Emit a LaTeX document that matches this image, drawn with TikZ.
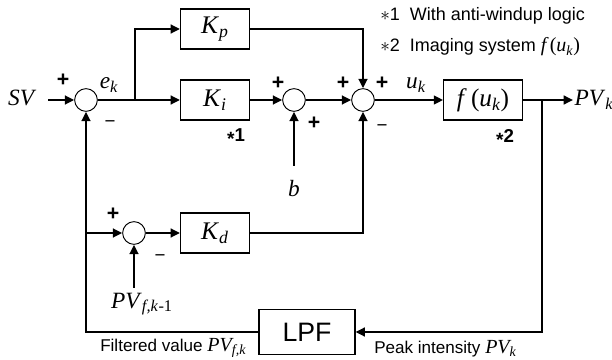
\documentclass[tikz,border=0pt]{standalone}
\usepackage{fontspec}
\setmainfont{Liberation Serif}
\setsansfont{Liberation Sans}
\usetikzlibrary{arrows.meta,positioning}
\newcommand{\vv}[1]{\textit{#1}}
\newcommand{\sbs}[1]{\textsubscript{\itshape #1}}
\begin{document}
\begin{tikzpicture}[x=0.75pt,y=-0.75pt,
  sig/.style={line width=2pt},
  arr/.style={line width=2pt,-{Triangle[length=7pt,width=6.5pt]}},
  sumc/.style={circle,draw,line width=0.7pt,minimum size=17pt,inner sep=0pt,fill=white},
  blk/.style={draw,line width=0.8pt,minimum width=51.75pt,minimum height=30pt,inner sep=0pt,font=\fontsize{19}{19}\selectfont},
  lbl/.style={font=\fontsize{17.5}{17.5}\selectfont,inner sep=1pt},
  sgn/.style={font=\sffamily\bfseries\fontsize{16}{16}\selectfont,inner sep=0pt},
  msgn/.style={font=\sffamily\fontsize{14}{14}\selectfont,inner sep=0pt},
  star/.style={font=\sffamily\bfseries\fontsize{14}{14}\selectfont,inner sep=0pt},
  note/.style={font=\sffamily\fontsize{13.5}{13.5}\selectfont,inner sep=0pt},
  foot/.style={font=\sffamily\fontsize{12.8}{12.8}\selectfont,inner sep=0pt},
  ser/.style={font=\fontsize{15}{15}\selectfont}]
\useasboundingbox (0,0) rectangle (612,360);
% summing junctions
\node[sumc] (s1) at (86,100) {};
\node[sumc] (s2) at (294,100) {};
\node[sumc] (s3) at (363,100) {};
\node[sumc] (s4) at (134,233) {};
% blocks
\node[blk] (kp) at (215,29) {\vv{K}\sbs{p}};
\node[blk] (ki) at (215,100) {\vv{K}\sbs{i}};
\node[blk] (kd) at (215,233) {\vv{K}\sbs{d}};
\node[blk,minimum width=59pt] (f) at (483,100) {\vv{f}\,(\vv{u}\sbs{k})};
\node[blk,minimum width=72pt,minimum height=34pt,font=\sffamily\fontsize{20}{20}\selectfont] (lpf) at (307,332) {LPF};
% signal labels
\node[lbl,anchor=east] (sv) at (38,98) {\vv{SV}};
\node[lbl,anchor=west] (pv) at (573,100) {\vv{PV}\sbs{k}};
\node[lbl] (bb) at (294,189) {\vv{b}};
\node[lbl] (pvf) at (142,304) {\vv{PV}\textsubscript{\itshape f,k}\textsubscript{-1}};
\node[lbl] at (109,85) {\vv{e}\sbs{k}};
\node[lbl] at (416,85) {\vv{u}\sbs{k}};
% coordinates
\coordinate (svsrc) at (48,100);
\coordinate (br1) at (135,100);
\coordinate (br2) at (542,100);
\coordinate (br3) at (86,233);
\coordinate (bsrc) at (294,166);
\coordinate (pvsrc) at (134,288);
% connectors
\draw[arr] (svsrc) -- (s1.west);
\draw[arr] (s1.east) -- (ki.west);
\draw[arr] (br1) |- (kp.west);
\draw[arr] (ki.east) -- (s2.west);
\draw[arr] (s2.east) -- (s3.west);
\draw[arr] (kp.east) -| (s3.north);
\draw[arr] (s3.east) -- (f.west);
\draw[arr] (f.east) -- (pv.west);
\draw[arr] (bsrc) -- (s2.south);
\draw[arr] (br2) |- (lpf.east);
\draw[arr] (lpf.west) -| (s1.south);
\draw[arr] (br3) -- (s4.west);
\draw[arr] (s4.east) -- (kd.west);
\draw[arr] (pvsrc) -- (s4.south);
\draw[arr] (kd.east) -| (s3.south);
% signs
\node[sgn] at (63,80) {+};
\node[msgn] at (110,124) {−};
\node[sgn] at (278,83) {+};
\node[sgn] at (314,123) {+};
\node[sgn] at (343,83) {+};
\node[sgn] at (382,83) {+};
\node[msgn] at (382,128) {−};
\node[sgn] at (113,214) {+};
\node[msgn] at (160,258) {−};
% stars
\node[star] at (236,137) {\raisebox{-0.2em}{\Large*}1};
\node[star] at (505,138) {\raisebox{-0.2em}{\Large*}2};
% notes
\node[note,anchor=west] at (380,16) {$\ast$1\ \ With anti-windup logic};
\node[note,anchor=west] at (380,47) {$\ast$2\ \ Imaging system {\rmfamily\fontsize{15}{15}\selectfont\itshape f\,}{\rmfamily\fontsize{15}{15}\selectfont(\itshape u\textsubscript{k}\upshape)}};
\node[foot,anchor=west] at (100,348) {Filtered value {\rmfamily\fontsize{15}{15}\selectfont\itshape PV\textsubscript{f,k}}};
\node[foot,anchor=west] at (374,349) {Peak intensity {\rmfamily\fontsize{15}{15}\selectfont\itshape PV\textsubscript{k}}};
\end{tikzpicture}
\end{document}
